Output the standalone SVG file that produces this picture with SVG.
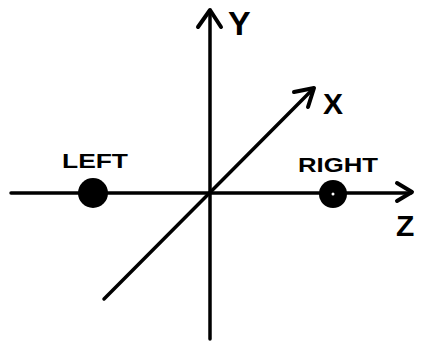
<svg xmlns="http://www.w3.org/2000/svg" width="423" height="343" viewBox="0 0 423 343">
<style>
.ax{stroke:#000;stroke-width:3.5;fill:none;stroke-linecap:round;stroke-linejoin:round}
.hd{stroke:#000;stroke-width:4;fill:none;stroke-linecap:round;stroke-linejoin:round}
.lbl{font-family:"Liberation Sans",Arial,sans-serif;font-weight:bold;fill:#000}
.dot{fill:#000}
</style>
<rect width="423" height="343" fill="#fff"/>
<g id="connectors">
<line class="ax" x1="11" y1="193" x2="411" y2="193"/>
<polyline class="hd" points="397,183 412,192 397,201"/>
<line class="ax" x1="210" y1="12" x2="210" y2="339"/>
<polyline class="hd" points="198,27 210,10 221,27"/>
<line class="ax" x1="104" y1="299" x2="312" y2="90"/>
<polyline class="hd" points="294,92 314,88 308,107"/>
</g>
<g id="node-y"><text class="lbl" x="228" y="35" font-size="34">Y</text></g>
<g id="node-x"><text class="lbl" x="323" y="114" font-size="30">X</text></g>
<g id="node-z"><text class="lbl" x="396" y="236" font-size="30">Z</text></g>
<g id="node-left">
<circle class="dot" cx="93" cy="193" r="15"/>
<text class="lbl" x="62" y="168" font-size="20" textLength="66" lengthAdjust="spacingAndGlyphs">LEFT</text>
</g>
<g id="node-right">
<circle class="dot" cx="333" cy="194" r="14"/>
<circle fill="#fff" cx="333" cy="194" r="1.5"/>
<text class="lbl" x="298" y="172" font-size="20" textLength="80" lengthAdjust="spacingAndGlyphs">RIGHT</text>
</g>
</svg>
